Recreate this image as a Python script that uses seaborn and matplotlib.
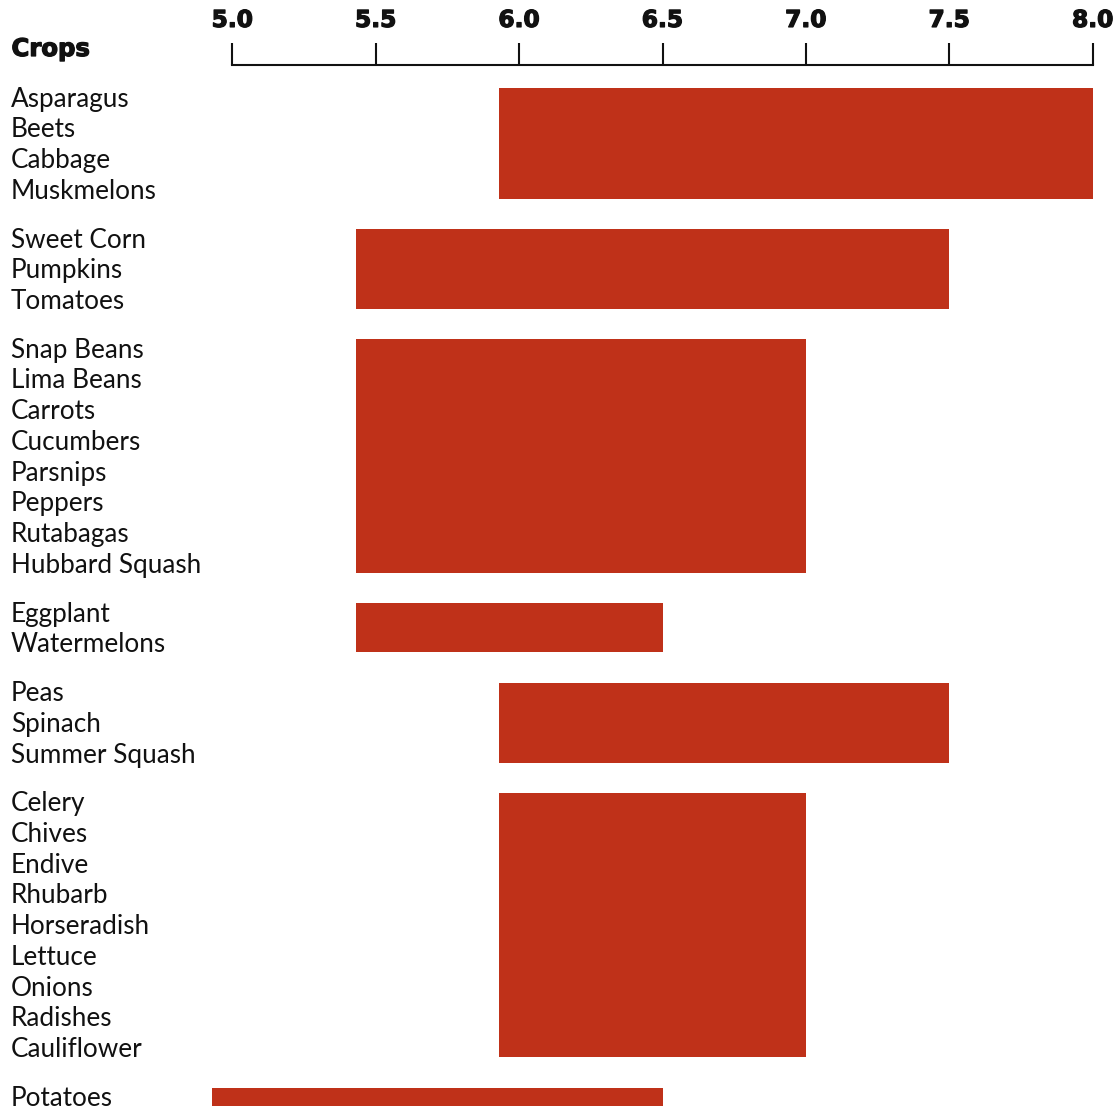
import matplotlib
matplotlib.use('Agg')
import matplotlib.pyplot as plt
import matplotlib.transforms as mtransforms
import matplotlib.patheffects as pe
import seaborn as sns

# crop groups and their soil pH range
crop_groups = [
    ['Asparagus', 'Beets', 'Cabbage', 'Muskmelons'],
    ['Sweet Corn', 'Pumpkins', 'Tomatoes'],
    ['Snap Beans', 'Lima Beans', 'Carrots', 'Cucumbers', 'Parsnips',
     'Peppers', 'Rutabagas', 'Hubbard Squash'],
    ['Eggplant', 'Watermelons'],
    ['Peas', 'Spinach', 'Summer Squash'],
    ['Celery', 'Chives', 'Endive', 'Rhubarb', 'Horseradish', 'Lettuce',
     'Onions', 'Radishes', 'Cauliflower'],
    ['Potatoes'],
]
ph_low = [5.93, 5.43, 5.43, 5.43, 5.93, 5.93, 4.93]
ph_high = [8.0, 7.5, 7.0, 6.5, 7.5, 7.0, 6.5]
x_ticks = [5.0, 5.5, 6.0, 6.5, 7.0, 7.5, 8.0]
header = 'Crops'

BAR_COLOR = '#BF3119'
TEXT_COLOR = '#111111'

# layout (pixels from the top of the figure)
W, H, DPI = 1117, 1111, 100
X0_PX, X1_PX, AX_TOP = 232.3, 1092.7, 65
XLIM = (4.8, 8.05)
FIRST_BASELINE = 106.7
ROW = 30.75
GAP = 17.9
CAP = 18.3

sns.set_theme(style='white')
plt.rcParams['font.family'] = ['Lato', 'DejaVu Sans']

heavy = [pe.withStroke(linewidth=0.9, foreground=TEXT_COLOR)]

px_per_unit = (X1_PX - X0_PX) / (x_ticks[-1] - x_ticks[0])
ax_left = X0_PX - (x_ticks[0] - XLIM[0]) * px_per_unit
ax_right = X1_PX + (XLIM[1] - x_ticks[-1]) * px_per_unit

fig = plt.figure(figsize=(W / DPI, H / DPI), dpi=DPI)
ax = fig.add_axes([ax_left / W, 0, (ax_right - ax_left) / W, (H - AX_TOP) / H])
ax.set_xlim(*XLIM)
ax.set_ylim(H, AX_TOP)

label_tr = mtransforms.blended_transform_factory(fig.transFigure, ax.transData)

y = FIRST_BASELINE
for names, lo, hi in zip(crop_groups, ph_low, ph_high):
    baselines = [y + i * ROW for i in range(len(names))]
    top = baselines[0] - CAP
    bottom = baselines[-1]
    ax.barh((top + bottom) / 2, hi - lo, left=lo, height=bottom - top,
            color=BAR_COLOR, linewidth=0)
    for name, b in zip(names, baselines):
        ax.text(11.0 / W, b, name, transform=label_tr, ha='left', va='baseline',
                fontsize=18.8, color=TEXT_COLOR, clip_on=False)
    y = baselines[-1] + ROW + GAP

fig.text(11.5 / W, 1 - 56 / H, header, ha='left', va='baseline',
         fontsize=17.5, fontweight='bold', family='DejaVu Sans',
         color=TEXT_COLOR, path_effects=heavy)

sns.despine(ax=ax, left=True, right=True, bottom=True, top=False)
ax.spines['top'].set_linewidth(1.5)
ax.spines['top'].set_color(TEXT_COLOR)
ax.spines['top'].set_bounds(x_ticks[0], x_ticks[-1])

# x axis on top, ticks pointing up
ax.set_xticks(x_ticks)
ax.set_xticklabels([f'{t:.1f}' for t in x_ticks], family='DejaVu Sans',
                   fontweight='bold', fontsize=16.8, color=TEXT_COLOR)
for lbl in ax.get_xticklabels():
    lbl.set_path_effects(heavy)
ax.tick_params(axis='x', which='major', top=True, labeltop=True,
               bottom=False, labelbottom=False, direction='out',
               length=15.8, width=1.5, color=TEXT_COLOR, pad=8)
ax.set_yticks([])
ax.set_facecolor('white')
ax.grid(False)

fig.savefig('out.png', dpi=DPI, facecolor='white')
